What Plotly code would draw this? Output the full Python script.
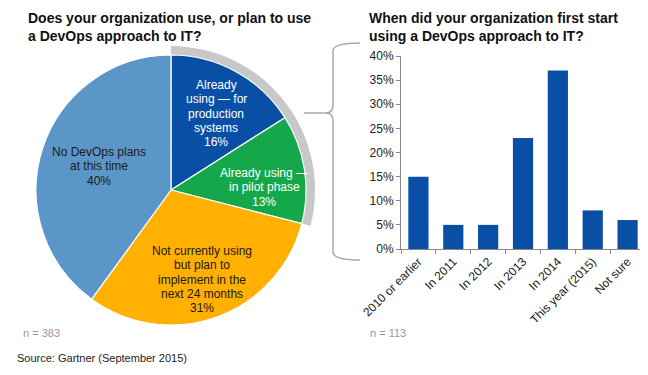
import plotly.graph_objects as go

W, H = 648, 375
OFF = 8  # page body margin shift compensation

pie_labels = ["Already<br>using — for<br>production<br>systems",
              "Already using —<br>in pilot phase",
              "Not currently using<br>but plan to<br>implement in the<br>next 24 months",
              "No DevOps plans<br>at this time"]
pie_values = [16, 13, 31, 40]
pie_colors = ["#0A4FA6", "#14A84A", "#FFB000", "#5B96C8"]
pie_text_colors = ["white", "white", "#1a1a1a", "#1a1a1a"]

ring_values = [29, 71]

bar_categories = ["2010 or earlier", "In 2011", "In 2012", "In 2013", "In 2014",
                  "This year (2015)", "Not sure"]
bar_values = [15, 5, 5, 23, 37, 8, 6]
y_ticks = [0, 5, 10, 15, 20, 25, 30, 35, 40]


def px(x):
    return (x - OFF) / W


def py(y):
    return 1 - (y - OFF) / H


FONT = "Liberation Sans, Arial, sans-serif"

fig = go.Figure()

# gray ring behind the "already using" slices
cx, cy, r = 171, 190, 135
ro = 144
fig.add_trace(go.Pie(
    values=ring_values, sort=False, direction="clockwise", rotation=0,
    marker=dict(colors=["#C8C8C8", "rgba(0,0,0,0)"], line=dict(width=0)),
    hole=(r - 1) / ro, textinfo="none", hoverinfo="skip", showlegend=False,
    domain=dict(x=[px(cx - ro), px(cx + ro)], y=[py(cy + ro), py(cy - ro)]),
))

fig.add_trace(go.Pie(
    values=pie_values, labels=[l.replace("<br>", " ") for l in pie_labels],
    sort=False, direction="clockwise", rotation=0,
    marker=dict(colors=pie_colors, line=dict(color="white", width=1.2)),
    textinfo="none", showlegend=False,
    domain=dict(x=[px(cx - r), px(cx + r)], y=[py(cy + r), py(cy - r)]),
))

fig.add_trace(go.Bar(
    x=bar_categories, y=bar_values, marker=dict(color="#0A4FA6"),
    xaxis="x", yaxis="y", showlegend=False, width=0.58,
))

# (x centre, y of first line) for each slice label, line step in px
label_pos = [(216, 85), (264, 173), (202, 251), (99, 152)]
LINE = 14.3
annotations = []
for lab, val, col, (lx, ly) in zip(pie_labels, pie_values, pie_text_colors, label_pos):
    lines = lab.split("<br>") + [f"{val}%"]
    for i, t in enumerate(lines):
        annotations.append(dict(
            text=t, x=px(lx), y=py(ly + i * LINE), xref="paper", yref="paper",
            showarrow=False, font=dict(family=FONT, size=12, color=col),
            align="center", xanchor="center", yanchor="middle",
        ))

annotations += [
    dict(text="<b>Does your organization use, or plan to use<br>a DevOps approach to IT?</b>",
         x=px(26), y=py(8), xref="paper", yref="paper", showarrow=False,
         xanchor="left", yanchor="top", align="left",
         font=dict(family=FONT, size=14, color="#111111")),
    dict(text="<b>When did your organization first start<br>using a DevOps approach to IT?</b>",
         x=px(367), y=py(8), xref="paper", yref="paper", showarrow=False,
         xanchor="left", yanchor="top", align="left",
         font=dict(family=FONT, size=14, color="#111111")),
    dict(text="n = 383", x=px(21), y=py(333), xref="paper", yref="paper", showarrow=False,
         xanchor="left", yanchor="middle", font=dict(family=FONT, size=11, color="#999999")),
    dict(text="n = 113", x=px(368), y=py(333), xref="paper", yref="paper", showarrow=False,
         xanchor="left", yanchor="middle", font=dict(family=FONT, size=11, color="#999999")),
    dict(text="Source: Gartner (September 2015)", x=px(15), y=py(358), xref="paper", yref="paper",
         showarrow=False, xanchor="left", yanchor="middle",
         font=dict(family=FONT, size=11, color="#222222")),
]


def P(x, y):
    return f"{px(x):.5f},{py(y):.5f}"


brace = (f"M {P(360,43)} Q {P(333,43)} {P(333,51)} L {P(333,105)} "
         f"Q {P(333,113)} {P(326,113)} Q {P(333,113)} {P(333,121)} "
         f"L {P(333,252)} Q {P(333,260)} {P(360,260)}")
shapes = [
    dict(type="path", path=brace, xref="paper", yref="paper",
         line=dict(color="#A8A8A8", width=1.5)),
    dict(type="line", x0=px(304), y0=py(113), x1=px(326), y1=py(113), xref="paper", yref="paper",
         line=dict(color="#A8A8A8", width=1.5)),
]

fig.update_layout(
    template="none",
    width=W, height=H, margin=dict(l=0, r=0, t=0, b=0, pad=0, autoexpand=False),
    paper_bgcolor="white", plot_bgcolor="white",
    font=dict(family=FONT, size=12, color="#222222"),
    annotations=annotations, shapes=shapes,
    xaxis=dict(domain=[px(401), px(645)], anchor="y", tickangle=-45, automargin=False,
               showline=True, linecolor="#888888", ticks="outside", tickson="boundaries",
               ticklen=4, tickcolor="#888888", showgrid=False, zeroline=False,
               tickfont=dict(family=FONT, size=12, color="#222222")),
    yaxis=dict(domain=[py(249), py(56)], anchor="x", range=[0, 40], automargin=False,
               tickvals=y_ticks, ticktext=[f"{v}%" for v in y_ticks],
               showline=True, linecolor="#888888", ticks="outside", ticklen=4,
               tickcolor="#888888", showgrid=False, zeroline=False,
               tickfont=dict(family=FONT, size=12, color="#222222")),
    bargap=0.42,
)

fig.write_html("out.html")
